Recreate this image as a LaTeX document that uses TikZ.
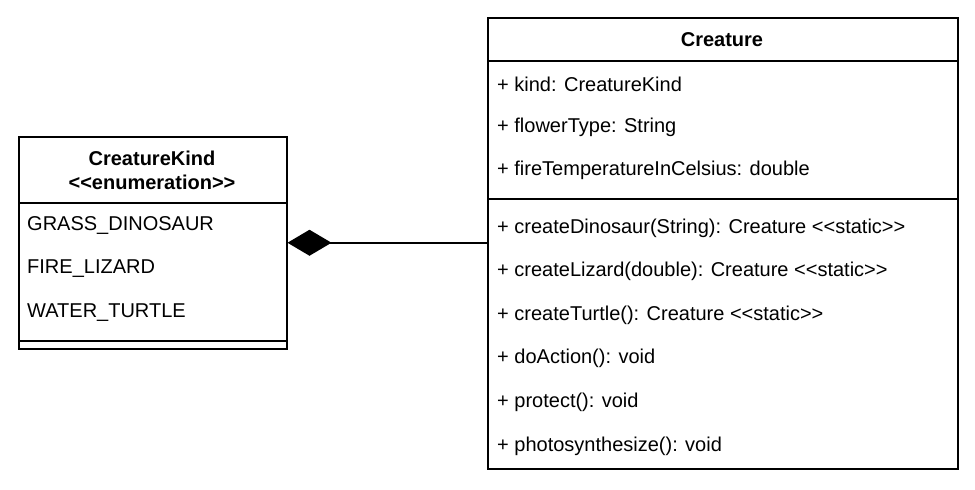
\documentclass[tikz,border=0pt]{standalone}
\usepackage{fontspec}
\setmainfont{Liberation Sans}
\usetikzlibrary{arrows.meta}
\newcommand{\stl}{{<}{<}}
\newcommand{\stg}{{>}{>}}
\begin{document}
\begin{tikzpicture}[x=1pt,y=-1pt,
  box/.style={draw, line width=1.5pt, anchor=north west, inner sep=0pt},
  row/.style={anchor=west, inner sep=0pt, font=\fontsize{20pt}{23pt}\selectfont},
  head/.style={anchor=center, inner sep=0pt, align=center, font=\fontsize{20pt}{24pt}\selectfont\bfseries},
  sep/.style={line width=1.5pt}]
\useasboundingbox (0,0) rectangle (975,490);
% CreatureKind
\node[box, minimum width=268pt, minimum height=212pt] (ckbox) at (18,136) {};
\node[head] (ckhead) at (152,170) {CreatureKind\\\stl enumeration\stg};
\draw[sep] (18,203) -- (286,203);
\node[row] (e1) at (27,226) {GRASS\_DINOSAUR};
\node[row] (e2) at (27,269) {FIRE\_LIZARD};
\node[row] (e3) at (27,313) {WATER\_TURTLE};
\draw[sep] (18,341) -- (286,341);
% Creature
\node[box, minimum width=470pt, minimum height=451pt] (cbox) at (487,17) {};
\node[head] (chead) at (722,40) {Creature};
\draw[sep] (487,61) -- (957,61);
\node[row] (a1) at (497,84) {+ kind: CreatureKind};
\node[row] (a2) at (497,127) {+ flowerType: String};
\node[row] (a3) at (497,170) {+ fireTemperatureInCelsius: double};
\draw[sep] (487,199) -- (957,199);
\node[row] (m1) at (497,228) {+ createDinosaur(String): Creature \stl static\stg};
\node[row] (m2) at (497,271) {+ createLizard(double): Creature \stl static\stg};
\node[row] (m3) at (497,315) {+ createTurtle(): Creature \stl static\stg};
\node[row] (m4) at (497,358) {+ doAction(): void};
\node[row] (m5) at (497,402) {+ protect(): void};
\node[row] (m6) at (497,446) {+ photosynthesize(): void};
% composition
\draw[line width=1.5pt, -{Diamond[length=44pt,width=26pt]}] (cbox.west |- ckbox.east) -- (ckbox.east);
\end{tikzpicture}
\end{document}
